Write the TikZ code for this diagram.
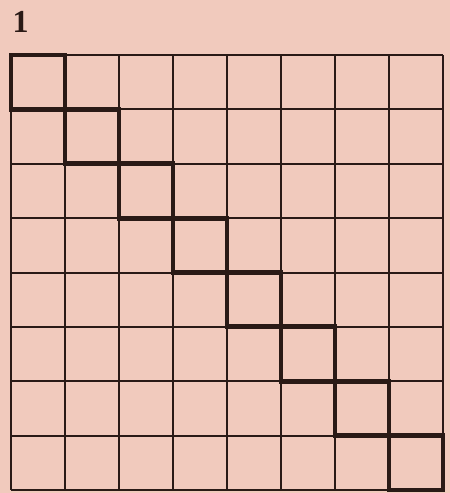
\documentclass[tikz,border=0pt]{standalone}
\usepackage{fontspec}
\setmainfont{Liberation Serif}
\definecolor{paper}{HTML}{F1CABD}
\definecolor{ink}{HTML}{2A1A16}
\tikzset{
  gridline/.style={draw=ink, line width=2pt},
  thickline/.style={draw=ink, line width=4.8pt, line cap=rect},
  numlabel/.style={font=\fontsize{32}{32}\selectfont\bfseries, text=ink, inner sep=0pt, anchor=base west}
}
\begin{document}
\begin{tikzpicture}[x=1pt,y=-1pt]
\fill[paper] (0,0) rectangle (450,493);
\useasboundingbox (0,0) rectangle (450,493);
\node[numlabel] (lbl) at (12.5,32) {1};
% grid
\foreach \i in {0,...,8} {
  \draw[gridline] ({11+54*\i},55) -- ({11+54*\i},490);
  \draw[gridline] (11,{55+54.375*\i}) -- (443,{55+54.375*\i});
}
% diagonal squares
\foreach \i in {0,...,7} {
  \draw[thickline] ({11+54*\i},{55+54.375*\i}) rectangle ({11+54*(\i+1)},{55+54.375*(\i+1)});
}
\end{tikzpicture}
\end{document}
